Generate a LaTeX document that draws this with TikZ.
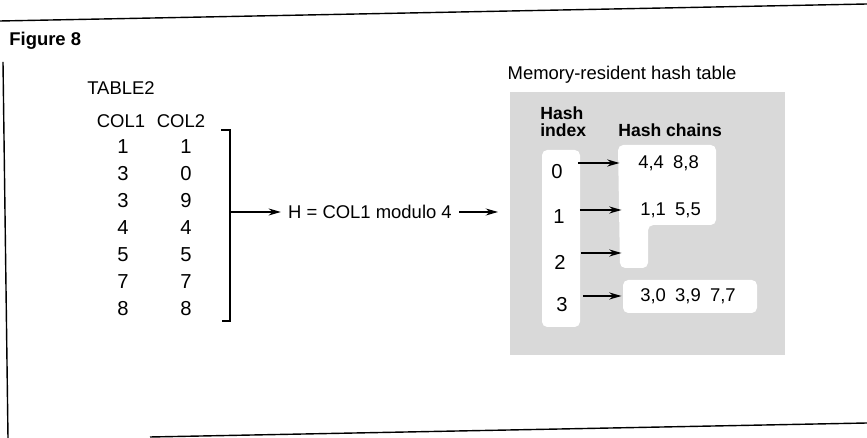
\documentclass[tikz,border=0pt]{standalone}
\usepackage{fontspec}
\setmainfont{Liberation Sans}
\usetikzlibrary{positioning,arrows.meta}

\tikzset{
	arr/.style={-{Stealth[length=7pt,width=4pt]},line width=0.6pt},
	rowarr/.style={-{Stealth[length=7pt,width=4pt]},line width=1pt},
	txt/.style={inner sep=0pt,font=\fontsize{10.5}{12}\selectfont},
	num/.style={inner sep=0pt,font=\fontsize{11.5}{13}\selectfont},
	hdr/.style={inner sep=0pt,font=\fontsize{10}{11}\selectfont\bfseries},
}

\begin{document}
\begin{tikzpicture}[x=0.02cm,y=-0.02cm]
\useasboundingbox (0,0) rectangle (867,438);

%Page frame
\draw[line width=0.8pt] (0,21) -- (867,4);
\draw[line width=0.8pt] (3,62) -- (8,438);
\draw[line width=0.8pt] (150,437) -- (867,423);
\node[hdr,anchor=base west,font=\fontsize{10.5}{12}\selectfont\bfseries] (fig) at (9,46) {Figure 8};

%Table
\node[txt] (tabname) at (121,88) {TABLE2};
\node[txt] (col1) at (121,121) {COL1};
\node[txt] (col2) at (181,121) {COL2};
\foreach \a/\b [count=\i] in {1/1,3/0,3/9,4/4,5/5,7/7,8/8}{
	\node[num] (a\i) at (123,120+27*\i) {\a};
	\node[num] (b\i) at (186,120+27*\i) {\b};
}

%Bracket
\coordinate (brtop) at (230,130);
\coordinate (brbot) at (230,321);
\coordinate (brmid) at (230,212);
\draw[line width=0.6pt] (221,130) -- (brtop) -- (brbot) -- (222,321);

%Hash function
\node[txt,inner xsep=4pt] (hfun) at (370,212) {H = COL1 modulo 4};
\coordinate (htin) at (498,212);
\draw[arr] (brmid) -- (hfun.west);
\draw[arr] (hfun.east) -- (htin);

%Hash table
\node[txt] (httitle) at (622,75) {Memory-resident hash table};
\fill[black!15] (510,92) rectangle (785,355);
\fill[white,rounded corners=3pt] (542,150) rectangle (580,327);
\fill[white,rounded corners=3pt] (618,145) -- (716,145) -- (716,225) -- (648,225)
	-- (648,268) -- (620,268) -- cycle;
\fill[white,rounded corners=3pt] (623,280) rectangle (757,313);

\node[hdr,anchor=base west] (hidxa) at (540,120) {Hash};
\node[hdr,anchor=base west] (hidxb) at (540,137) {index};
\node[hdr,anchor=base west] (hchain) at (618,137) {Hash chains};

%Index column
\node[num] (i0) at (557,172) {0};
\node[num] (i1) at (559,217) {1};
\node[num] (i2) at (560,262) {2};
\node[num] (i3) at (562,305) {3};

%Chains
\node[txt,anchor=west] (ch0) at (638,163) {4,4\enspace 8,8};
\node[txt,anchor=west] (ch1) at (640,210) {1,1\enspace 5,5};
\node[txt,anchor=west] (ch2) at (640,253) {};
\node[txt,anchor=west] (ch3) at (640,296) {3,0\enspace 3,9\enspace 7,7};

\foreach \k in {0,1,2,3}
	\draw[rowarr,shorten <=8.5pt,shorten >=10.5pt] (i\k.east |- ch\k.west) -- (ch\k.west);

\end{tikzpicture}
\end{document}
